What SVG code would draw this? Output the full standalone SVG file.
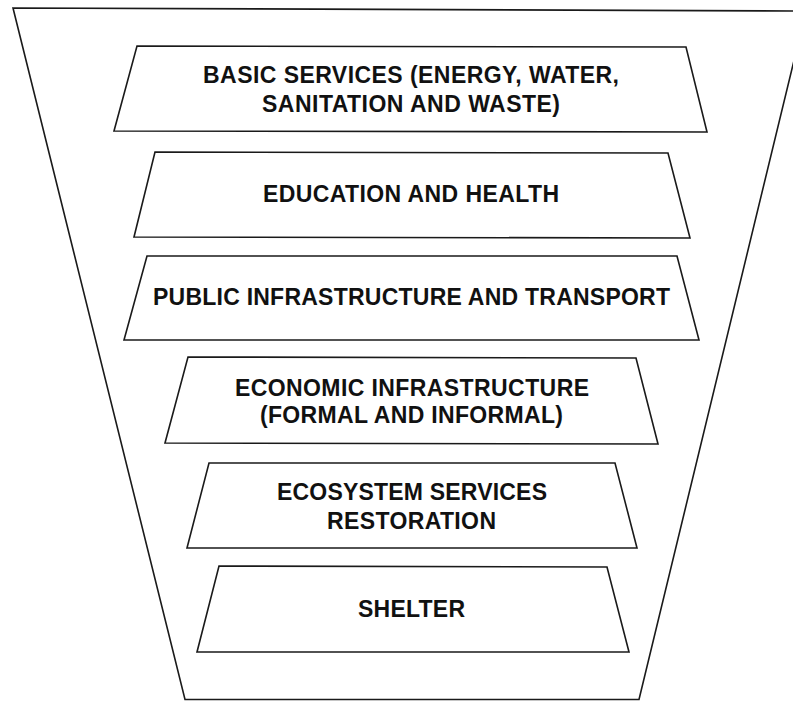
<svg xmlns="http://www.w3.org/2000/svg" width="793" height="702" viewBox="0 0 793 702">
  <style>
    .frame { fill: none; stroke: #1a1a1a; stroke-width: 1.6; stroke-linejoin: miter; }
    .box { fill: #ffffff; stroke: #1a1a1a; stroke-width: 1.6; stroke-linejoin: miter; }
    .lbl { font-family: "Liberation Sans", Arial, Helvetica, sans-serif; font-weight: bold; font-size: 23px; fill: #111111; text-anchor: middle; }
  </style>
  <rect x="0" y="0" width="793" height="702" fill="#ffffff"/>
  <g id="funnel">
    <polygon class="frame" points="13,8 806,11 639,699.5 185,699.5"/>
  </g>
  <g id="basic-services">
    <polygon class="box" points="137,46 686,47 707,132 114,131"/>
    <text class="lbl" x="411" y="83" textLength="416" lengthAdjust="spacing">BASIC SERVICES (ENERGY, WATER,</text>
    <text class="lbl" x="411" y="112" textLength="298" lengthAdjust="spacing">SANITATION AND WASTE)</text>
  </g>
  <g id="education-health">
    <polygon class="box" points="155,152 668,153 690,238 134,237"/>
    <text class="lbl" x="411" y="202" textLength="296" lengthAdjust="spacing">EDUCATION AND HEALTH</text>
  </g>
  <g id="public-infrastructure">
    <polygon class="box" points="147,256 677,256 699,340 124,340"/>
    <text class="lbl" x="411.5" y="305" textLength="517" lengthAdjust="spacing">PUBLIC INFRASTRUCTURE AND TRANSPORT</text>
  </g>
  <g id="economic-infrastructure">
    <polygon class="box" points="188,357 636,358 658,444 165,443"/>
    <text class="lbl" x="412" y="396" textLength="354" lengthAdjust="spacing">ECONOMIC INFRASTRUCTURE</text>
    <text class="lbl" x="411.5" y="423" textLength="303" lengthAdjust="spacing">(FORMAL AND INFORMAL)</text>
  </g>
  <g id="ecosystem-services">
    <polygon class="box" points="209,463 615,463 637,548 187,548"/>
    <text class="lbl" x="412" y="500" textLength="270" lengthAdjust="spacing">ECOSYSTEM SERVICES</text>
    <text class="lbl" x="411.5" y="529" textLength="169" lengthAdjust="spacing">RESTORATION</text>
  </g>
  <g id="shelter">
    <polygon class="box" points="219,566 607,567 629,652 197,652"/>
    <text class="lbl" x="411.5" y="617" textLength="107" lengthAdjust="spacing">SHELTER</text>
  </g>
</svg>
